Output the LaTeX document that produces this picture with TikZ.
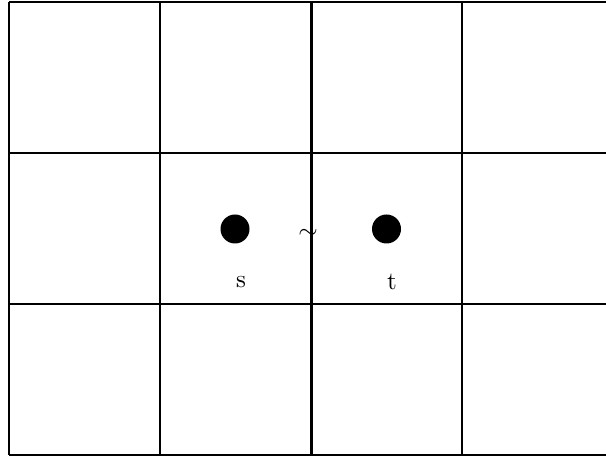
\documentclass[tikz,border=0pt]{standalone}
\begin{document}
\begin{tikzpicture}[x=0.4pt,y=-0.4pt,
  gridline/.style={line width=0.8pt},
  midline/.style={line width=1.2pt},
  dotnode/.style={circle,fill=black,inner sep=0pt,minimum size=11.6pt},
  lbl/.style={inner sep=0pt}]
\useasboundingbox (0,0) rectangle (606,457);
% horizontal lines
\foreach \y in {2,153,304,455} \draw[gridline] (9,\y) -- (613,\y);
% vertical lines
\foreach \x in {9,160,462} \draw[gridline] (\x,2) -- (\x,455);
\draw[midline] (311,2) -- (311,455);
\node[dotnode] (s) at (235,229) {};
\node[dotnode] (t) at (386.5,229) {};
\node[lbl] (sl) at (241,282) {s};
\node[lbl] (tl) at (392,282) {t};
\node[lbl] (tilde) at (308,234) {$\sim$};
\end{tikzpicture}
\end{document}
